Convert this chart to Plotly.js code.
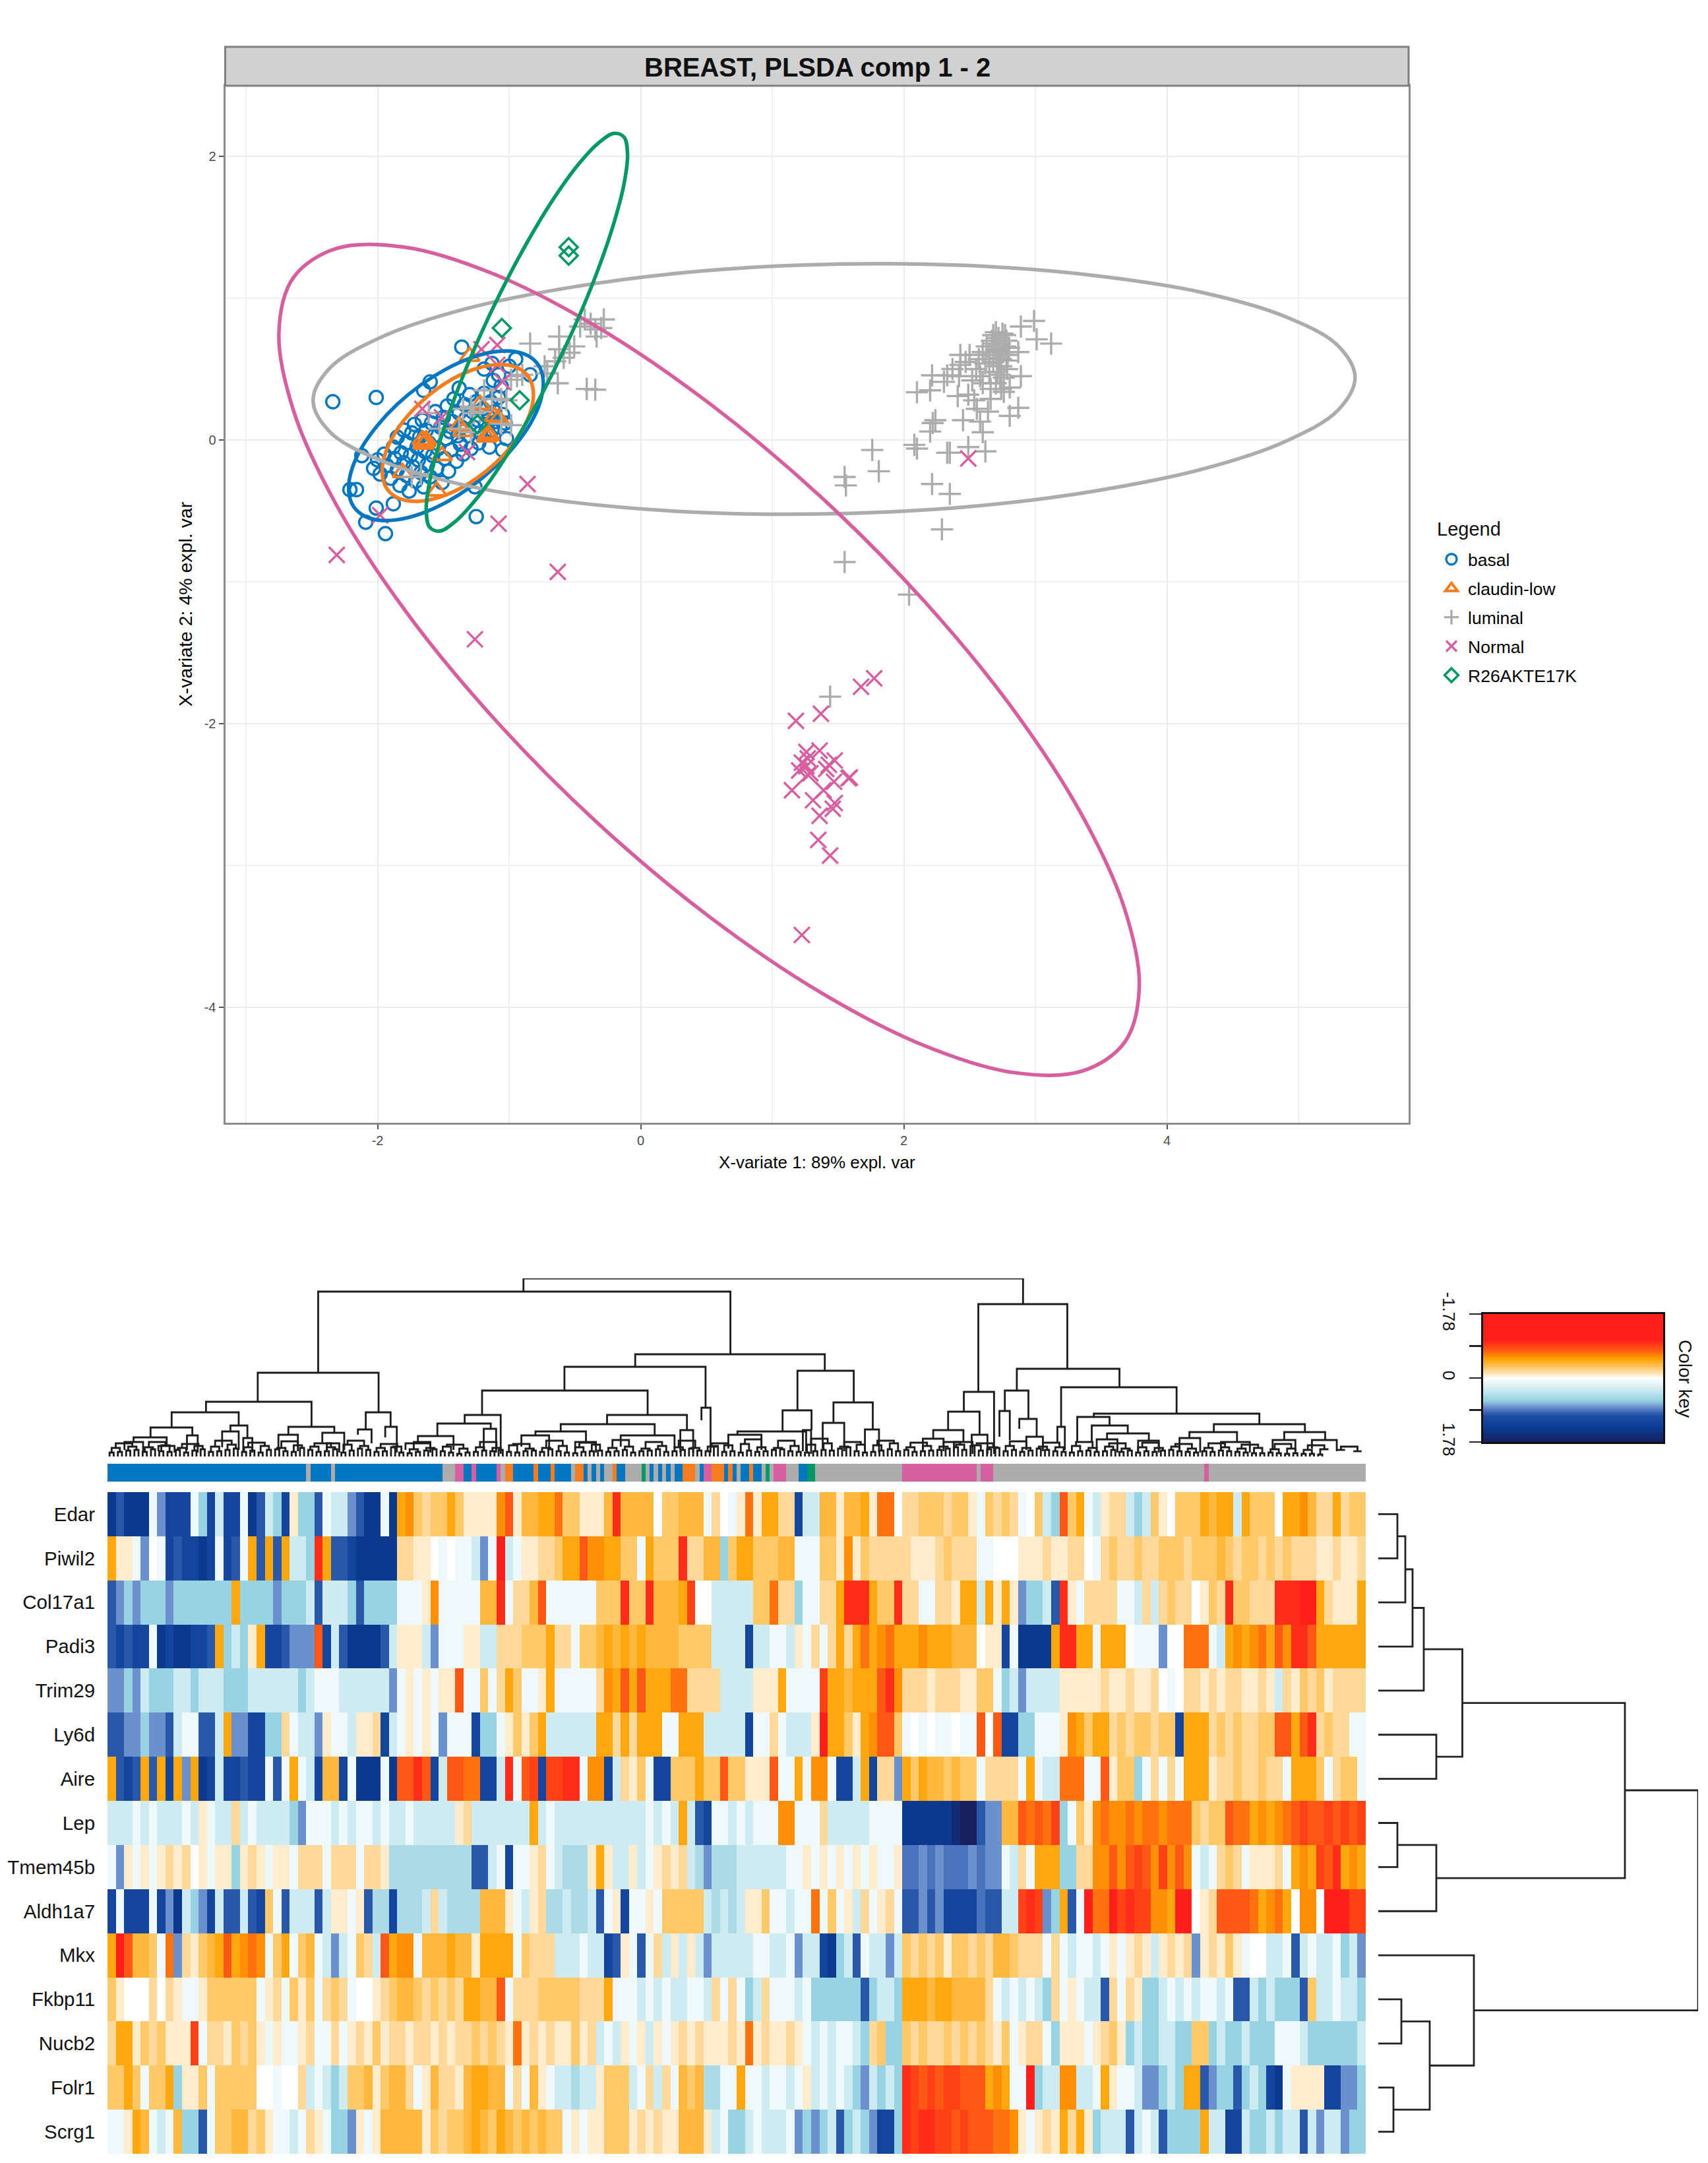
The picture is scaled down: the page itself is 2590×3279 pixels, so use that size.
<!DOCTYPE html>
<html><head><meta charset="utf-8">
<script src="https://cdn.plot.ly/plotly-3.0.1.min.js"></script>
<style>html,body{margin:0;padding:0;background:#fff}</style></head>
<body><div id="chart" style="width:2590px;height:3279px"></div>
<script>
// ---------- scatter panel values (component 1, component 2) ----------
const basalPts=[[-2.34,.27],[-2.01,.30],[-1.36,.655],[-1.60,.41],[-1.65,.35],[-1.38,.365],[-2.12,-.11],[-2.21,-.35],[-2.16,-.35],[-2.01,-.48],[-1.88,-.45],[-2.09,-.58],[-1.94,-.66],[-1.25,-.54],[-1.26,-.33],[-.95,.57],[-.84,.46],[-1.13,.54],[-1.19,.50],[-1.05,-.07],[-1.02,.01],[-1.0,.52],[-1.08,.46],[-1.06,.38],[-1.12,.42],
[-2.03,-.2],[-1.98,-.24],[-2.0,-.14],[-1.95,-.1],[-1.93,-.18],[-1.9,-.27],[-1.88,-.05],[-1.87,-.13],[-1.85,-.21],[-1.85,.02],[-1.83,-.32],[-1.82,-.09],[-1.8,-.16],[-1.8,.07],[-1.78,-.25],[-1.78,-.02],[-1.76,-.36],[-1.75,-.11],[-1.74,.05],[-1.73,-.19],[-1.72,.11],[-1.71,-.29],[-1.7,-.05],[-1.69,-.14],[-1.68,.02],[-1.67,-.23],[-1.66,.14],[-1.65,-.33],[-1.64,-.08],[-1.63,.07],[-1.62,-.17],[-1.61,-.02],[-1.6,-.26],[-1.59,.12],[-1.58,-.11],[-1.57,.03],[-1.56,.2],[-1.55,-.2],[-1.54,-.06],[-1.52,.09],[-1.51,-.3],[-1.5,.16],[-1.49,-.13],[-1.48,.01],[-1.47,.24],[-1.46,-.22],[-1.45,.06],[-1.44,-.07],[-1.43,.13],[-1.42,.29],[-1.4,-.15],[-1.39,.03],[-1.38,.19],[-1.37,-.03],[-1.36,.09],[-1.35,-.1],[-1.34,.25],[-1.33,.15],[-1.31,.03],[-1.3,.32],[-1.29,-.06],[-1.28,.2],[-1.27,.09],[-1.25,.27],[-1.24,.14],[-1.23,-.02],[-1.22,.05],[-1.2,.22],[-1.19,.33],[-1.18,.11],[-1.16,.17],[-1.15,-.05],[-1.14,.27],[-1.13,.07],[-1.11,.2],[-1.1,.13],[-1.08,.3],[-1.07,.09],[-1.05,.18],[-1.03,.12]];
const claudinPts=[[-1.64,-.015],[-1.65,-.03],[-1.63,0],[-1.66,0],[-1.51,-.11],[-1.81,-.23],[-1.55,-.36],[-1.22,.25],[-1.38,.10],[-1.35,.06],[-1.16,.045],[-1.15,.03],[-1.17,.02],[-1.11,.165],[-1.08,.15],[-1.30,.59]];
const luminalPts=[[-.84,.68],[-.62,.73],[-.62,.64],[-.505,.66],[-.54,.615],[-.585,.58],[-.65,.555],[-.73,.52],[-.71,.47],[-.63,.40],[-.41,.36],[-.345,.355],[-.425,.85],[-.345,.78],[-.28,.85],[-.30,.79],[-.38,.82],[-.335,.73],[-.46,.80],
[-.94,.45],[-.985,.425],[-.90,.46],[-1.19,.35],[-1.13,.29],[-1.06,.29],[-1.02,.28],[-1.29,.235],[-1.35,.22],[-1.22,.2],[-1.27,.19],[-1.06,.115],[-.985,.105],[-1.61,.19],[-1.53,.08],[-1.38,.08],[-1.29,.055],[-1.67,-.24],[-1.74,-.26],
[2.99,.84],[2.89,.80],[3.01,.71],[3.12,.68],[2.87,.62],[2.89,.45],[2.87,.227],[2.805,.17],[2.62,-.08],[2.49,-.05],[2.35,-.09],[2.33,-.09],[2.08,-.034],[2.10,-.06],[1.76,-.07],[1.81,-.22],[1.55,-.26],[1.56,-.32],[2.215,-.31],[2.35,-.38],[2.29,-.63],[1.55,-.86],[2.04,-1.09],[1.44,-1.81],
[2.22,.12],[2.24,.14],[2.20,.06],[2.45,.14],[2.58,.13],[2.60,.055],[2.10,.337],[2.20,.35],[2.215,.456],[2.305,.41],[2.33,.456],[2.37,.50],[2.43,.60],[2.43,.53],[2.41,.31],[2.535,.28],[2.49,.32],[2.66,.29],[2.555,.22],[2.64,.20],[2.76,.34],[2.805,.37],[2.785,.50],
[2.6,.62],[2.63,.66],[2.65,.6],[2.67,.7],[2.68,.55],[2.7,.76],[2.7,.64],[2.71,.48],[2.72,.58],[2.72,.72],[2.73,.68],[2.74,.52],[2.75,.62],[2.75,.75],[2.76,.44],[2.77,.66],[2.78,.7],[2.78,.56],[2.79,.6],[2.8,.65],[2.65,.48],[2.62,.54],[2.57,.57],[2.55,.5],[2.5,.6],[2.47,.55],[2.42,.45],[2.66,.36],[2.7,.4],[2.74,.36],[2.6,.4],[2.68,.74],[2.72,.63],[2.74,.57],[2.77,.74],[2.69,.68],[2.71,.52],[2.73,.46],[2.58,.45],[2.52,.42]];
const normalPts=[[-2.31,-.81],[-1.21,.64],[-1.09,.67],[-1.66,.22],[-1.05,.41],[-1.09,.53],[-1.32,-.085],[-.86,-.31],[-1.08,-.59],[-1.98,-.53],[-1.51,.16],[-.63,-.93],[-1.26,-1.405],[1.225,-3.49],[2.49,-.13],[1.775,-1.68],[1.675,-1.74],[1.37,-1.93],[1.18,-1.98],[1.36,-2.19],[1.26,-2.2],[1.27,-2.245],[1.225,-2.275],[1.205,-2.33],[1.26,-2.3],[1.27,-2.36],[1.29,-2.35],[1.475,-2.26],[1.43,-2.29],[1.41,-2.32],[1.58,-2.385],[1.59,-2.38],[1.47,-2.41],[1.39,-2.47],[1.15,-2.47],[1.31,-2.54],[1.475,-2.56],[1.46,-2.6],[1.36,-2.65],[1.35,-2.82],[1.44,-2.93]];
const r26Pts=[[-.547,1.36],[-.547,1.30],[-1.055,.79],[-.92,.28],[-1.24,.11]];
// ---------- confidence ellipses, read around each outline ----------
const ellipseBasalX=[-.74,-.765,-.839,-.957,-1.11,-1.288,-1.48,-1.672,-1.85,-2.003,-2.121,-2.195,-2.22,-2.195,-2.121,-2.003,-1.85,-1.672,-1.48,-1.288,-1.11,-.957,-.839,-.765,-.74];
const ellipseBasalY=[.40,.509,.585,.624,.622,.58,.50,.388,.252,.10,-.055,-.205,-.34,-.449,-.525,-.564,-.562,-.52,-.44,-.328,-.192,-.04,.115,.265,.40];
const ellipseClaudinX=[-.815,-.835,-.892,-.983,-1.102,-1.241,-1.39,-1.539,-1.678,-1.797,-1.888,-1.945,-1.965,-1.945,-1.888,-1.797,-1.678,-1.539,-1.39,-1.241,-1.102,-.983,-.892,-.835,-.815];
const ellipseClaudinY=[.32,.415,.484,.524,.531,.506,.45,.366,.261,.142,.016,-.107,-.22,-.315,-.384,-.424,-.431,-.406,-.35,-.266,-.161,-.042,.084,.207,.32];
const ellipseLuminalX=[5.43,5.30,4.90,4.27,3.45,2.50,1.47,.44,-.51,-1.33,-1.96,-2.36,-2.49,-2.36,-1.96,-1.33,-.51,.44,1.47,2.50,3.45,4.27,4.90,5.30,5.43];
const ellipseLuminalY=[.44,.665,.87,1.04,1.16,1.23,1.24,1.19,1.08,.925,.73,.51,.28,.055,-.15,-.32,-.44,-.51,-.52,-.47,-.36,-.205,-.01,.21,.44];
const ellipseNormalX=[3.79,3.679,3.352,2.832,2.155,1.367,.52,-.327,-1.115,-1.792,-2.312,-2.639,-2.75,-2.639,-2.312,-1.792,-1.115,-.327,.52,1.367,2.155,2.832,3.352,3.679,3.79];
const ellipseNormalY=[-3.855,-3.308,-2.641,-1.90,-1.136,-.399,.26,.795,1.17,1.36,1.351,1.146,.755,.208,-.459,-1.20,-1.964,-2.701,-3.36,-3.895,-4.27,-4.46,-4.451,-4.246,-3.855];
const ellipseR26X=[-.10,-.126,-.203,-.324,-.482,-.667,-.865,-1.063,-1.248,-1.406,-1.527,-1.604,-1.63,-1.604,-1.527,-1.406,-1.248,-1.063,-.865,-.667,-.482,-.324,-.203,-.126,-.10];
const ellipseR26Y=[2.015,2.135,2.162,2.092,1.934,1.694,1.39,1.044,.678,.318,-.012,-.289,-.495,-.615,-.642,-.572,-.414,-.174,.13,.476,.842,1.202,1.532,1.809,2.015];
// ---------- heatmap rows (tenths of a z-score, per pair of samples) ----------
const genes=["Edar","Piwil2","Col17a1","Padi3","Trim29","Ly6d","Aire","Lep","Tmem45b","Aldh1a7","Mkx","Fkbp11","Nucb2","Folr1","Scrg1"];
const rowEdar=[14,10,14,14,14,1,8,12,12,12,1,6,12,3,12,12,1,14,10,3,6,12,-1,6,6,10,1,3,3,8,10,14,14,1,14,
-5,-6,-3,-2,-3,-3,-5,-3,-1,-1,-1,-1,-6,-8,-1,-4,-4,-5,-5,-7,-3,-3,-1,-1,-1,-4,-10,-4,-4,-4,-4,0,-3,-3,-4,-4,-4,1,-2,0,1,-1,-7,-1,-5,-5,-2,-2,12,3,3,-4,-4,-1,-4,-4,
-5,-1,-7,-7,0,-2,-2,-3,-3,-3,-2,-3,-3,-1,1,-3,-2,-3,-2,1,0,-3,3,6,-8,-3,-5,1,3,-1,-2,-2,3,6,3,-3,-1,0,-3,-3,-3,-5,-4,-5,-5,3,-5,-3,-3,-3,0,-5,-5,-6,-4,-2,-2,-5,-2,-3,-3];
const rowPiwil2=[-5,-1,-1,1,8,0,1,12,10,12,12,14,12,1,12,10,1,-5,10,-5,10,-5,3,3,6,-10,-5,10,10,12,14,14,14,14,14,
-2,-2,-1,-1,0,1,0,1,1,3,8,1,-12,3,1,-1,-1,-2,-2,-3,-5,-5,-8,-6,-6,-5,-5,-3,-3,1,-5,-3,-3,-3,-10,-2,-2,-4,-4,6,-3,-5,-5,-3,-3,-3,-4,-4,1,1,1,-3,-3,-1,-6,-1,
-3,-2,-2,-2,-2,-2,-1,-1,-1,-2,-3,-2,-2,-2,1,1,0,0,0,-1,-1,-1,-2,-1,-1,-2,-2,0,1,-2,-3,-2,-2,-3,-2,-2,-3,-3,-3,-2,-3,-3,-3,-4,-3,-2,-3,-3,-2,-3,-2,-3,-2,-2,-2,-1,-1,-2,-1,-1,-2];
const rowCol17a1=[10,8,6,8,6,6,6,8,6,6,6,6,6,6,6,-5,6,6,6,6,8,6,6,6,3,10,3,3,3,6,10,6,6,6,6,
1,1,1,-1,-6,1,1,1,1,1,-4,-4,-10,1,-2,-2,-4,-8,1,1,1,1,1,1,-3,-3,-3,-10,-3,-3,-10,-4,-4,-4,-5,-9,0,0,3,3,3,3,3,-3,-3,-7,-2,-2,6,1,1,-2,-2,-5,-10,-10,
-10,-5,-3,-3,-10,-2,-2,1,1,-2,-2,-1,-5,-5,3,-5,-1,-5,-1,8,6,6,3,10,-10,-1,1,-2,-2,-2,-2,1,1,3,-2,3,-2,-3,-2,-2,0,-1,-3,-2,-10,-3,-3,-2,-2,-2,-10,-10,-10,-12,-12,-5,-2,-1,-1,-1,-5];
const rowPadi3=[10,12,10,12,12,1,14,12,14,14,12,12,10,-5,6,3,6,-1,-5,12,12,10,8,8,8,-8,12,3,10,14,14,14,14,10,3,
-1,-1,-1,3,8,1,1,1,-1,-1,3,3,-2,-2,-2,-3,-3,-3,-5,-2,-2,1,-3,-3,-4,-5,-4,-5,-4,-5,-4,-4,-4,-4,-3,-3,-3,-3,3,3,3,3,12,3,3,1,1,3,-1,1,-2,1,-2,-5,-2,-5,
-7,-5,-6,-7,-5,-5,-5,-6,-5,-5,-5,-4,-4,-4,0,-1,-1,12,1,14,14,14,14,-5,-10,-10,-5,-5,1,-5,-5,-5,0,1,1,1,8,0,0,-7,-7,-7,1,3,-5,-6,-5,-6,-7,-5,-8,-6,-10,-10,-8,-5,-5,-5,-5,-5,-5];
const rowTrim29=[8,8,6,8,3,6,6,6,3,3,6,3,3,3,6,6,6,3,3,3,3,3,3,6,3,1,1,1,3,3,3,3,3,3,8,
1,-1,1,-1,1,-1,-1,-8,1,1,-3,1,-2,-5,-3,1,1,-1,-5,1,1,1,1,1,-2,-6,-5,-8,-5,-8,-5,-5,-5,-7,-7,-2,-2,-2,-2,3,3,3,3,-1,-1,-1,-5,1,1,1,1,-9,-5,-5,-4,-5,
-5,-5,-8,-10,-6,-2,-2,-2,-1,-2,-2,-2,-1,-1,-3,-3,1,6,3,8,3,3,3,3,-1,-1,-1,-1,-1,-2,-1,-1,-2,-1,-1,-2,0,1,0,-2,-2,-1,-2,-1,-2,-2,-1,-1,-2,-1,3,-2,-1,-3,-2,-3,-1,-2,-2,-2,-2];
const rowLy6d=[10,10,8,8,6,8,8,10,3,1,1,10,10,3,-5,8,8,12,12,6,6,-2,1,3,3,8,-1,1,1,3,-1,-1,-2,12,3,
1,-1,1,-1,1,8,1,1,1,12,6,6,1,-1,-3,-1,-3,-5,3,3,3,3,3,3,-5,-5,-2,-5,-2,-5,-5,-5,1,1,-5,-5,-5,3,3,3,3,3,12,1,1,-2,1,3,3,3,-1,-12,-5,-5,-3,-1,
-5,-6,-8,-8,-3,1,0,1,0,1,1,0,1,1,-8,0,-8,12,12,6,6,1,1,1,-1,-6,-5,-3,-5,-5,-2,-3,-2,-3,-3,-2,-3,-3,12,-5,-5,-5,-2,-3,-2,-3,-2,-2,-3,-3,-8,-8,-5,-8,-10,-2,-3,-2,-2,1,1];
const rowAire=[-5,10,12,10,-5,10,-5,12,-5,8,-5,14,12,3,12,12,10,12,12,1,10,1,-5,1,3,12,-4,-4,12,1,14,14,14,1,14,
-8,-8,-10,-8,12,3,-8,-8,-7,-7,12,12,3,-10,1,-8,-9,12,-9,-9,-10,-10,1,-6,-6,12,3,-2,-1,-3,1,12,12,-3,-3,-3,-5,-3,-3,-8,-3,-3,-1,-1,-1,-8,1,1,-5,1,-6,-6,1,12,12,3,
-5,12,-2,-2,8,-5,-3,-5,-4,-4,-3,-4,-3,-3,1,-2,-2,-2,-2,1,-5,1,3,3,-7,-7,-7,1,1,-8,-1,-3,-3,6,1,-2,1,-2,1,-5,-5,-5,-1,-2,-2,-3,-2,-2,-3,-2,-2,1,-5,-5,-5,-3,1,-2,-3,-3,1];
const rowLep=[3,3,3,1,3,1,3,3,3,1,3,-1,1,3,3,-2,3,1,3,3,3,3,6,8,1,1,1,3,1,3,1,1,3,1,3,
3,1,3,3,3,3,3,-1,-2,3,3,3,3,3,3,3,-5,3,1,3,3,3,3,3,3,3,3,3,3,3,1,3,1,3,-5,3,10,12,1,1,3,1,3,1,1,1,-6,-6,1,1,1,-2,3,3,3,3,
3,1,1,1,1,14,14,14,14,14,14,16,18,18,10,8,8,-4,-4,-8,-7,-8,-7,-9,6,1,-3,-1,-6,-7,-6,-6,-7,-6,-7,-7,-6,-7,-7,-7,-3,-2,-3,-3,-8,-7,-7,-5,-6,-5,-6,-7,-8,-9,-8,-8,-9,-8,-9,-8,-9];
const rowTmem45b=[1,8,-1,1,-1,1,-1,-2,-1,-2,0,-1,1,-1,-1,6,-1,-2,-1,1,-1,-1,1,-2,-2,-2,1,-2,-2,-2,1,-2,-2,-1,5,
5,5,5,5,5,5,5,5,5,10,10,3,1,12,1,1,-1,-2,1,3,5,5,5,-1,-5,-1,3,3,-1,3,1,-1,-2,-1,-2,3,5,8,5,5,5,3,3,3,3,3,3,1,1,-1,1,-1,1,-1,1,-1,
1,-1,1,1,-1,9,9,8,9,8,9,9,9,8,9,8,8,1,3,-2,1,-5,-5,-5,6,6,-2,-2,-6,-6,-8,-6,-8,-9,-8,-6,-9,-6,-8,-6,1,3,1,-2,-3,-2,1,-1,-1,-1,-2,1,-5,-6,-5,-9,-8,-10,-5,-6,-5];
const rowAldh1a7=[12,1,12,12,12,1,12,8,14,3,6,8,12,3,10,10,3,10,12,-3,1,10,3,3,3,10,3,-1,-1,1,-1,10,5,5,12,
5,5,5,3,-2,3,5,5,5,5,-4,-4,-4,-1,1,3,-1,-2,5,5,3,5,5,3,10,1,-1,12,1,1,-1,1,-3,-3,-3,-3,-3,3,5,3,5,3,-1,-1,-3,1,1,3,1,1,-7,1,-3,1,-1,3,
-2,1,-1,-2,1,10,10,8,10,8,12,12,12,12,9,10,10,3,3,-9,-10,-9,8,6,-5,10,1,-12,-7,-7,-12,-9,-10,-9,-9,-6,-6,-5,-11,-11,0,-1,-2,-8,-8,-8,-8,-7,-5,-6,-7,-5,0,-6,-6,0,-12,-12,-12,-9,-9];
const rowMkx=[-5,-12,-8,-4,-4,-3,1,-7,8,-2,-1,-3,-4,-5,-8,-5,-6,-7,-6,1,-3,-5,1,-3,-4,1,3,8,3,1,-3,-2,3,-8,-5,
-6,-6,1,-4,-4,-4,-5,-4,-4,-1,-5,-5,-5,-5,1,-3,-2,-2,-2,3,3,3,1,3,3,12,10,-1,1,10,1,-2,3,-1,3,-1,3,8,3,3,3,3,3,1,1,3,3,1,8,3,3,12,14,6,3,10,
1,3,3,8,3,-3,-2,-3,-2,-3,-1,-3,-3,-2,-3,-2,-4,-4,-3,-2,-2,-2,1,-2,1,3,1,1,3,1,-1,1,-1,-2,-1,3,-1,-2,-1,-2,8,-1,-2,-1,-3,-1,1,0,0,3,3,1,10,3,1,3,3,1,6,3,8];
const rowFkbp11=[-3,-1,0,0,0,-2,0,-2,-1,1,1,-1,-3,-3,-3,-3,-3,-3,1,-1,-2,1,-3,-1,-3,1,-2,-3,-2,1,0,0,-1,-2,-3,
-4,-4,-3,-2,-3,-2,-3,-2,-5,-5,-4,-4,-8,1,-2,-2,-2,-3,-3,-3,-3,-3,-2,-2,-2,-5,1,1,1,3,1,3,1,3,3,1,1,3,-2,1,-2,1,6,3,-2,1,1,1,3,1,6,6,6,6,6,6,
10,6,3,3,6,-5,-5,-5,-4,-5,-5,-4,-4,-4,-4,-2,1,3,1,3,1,3,6,-2,1,-1,1,3,3,10,-2,1,-2,-1,6,6,3,1,3,1,3,1,1,3,1,10,10,3,6,3,6,6,6,10,-3,3,3,1,3,3,6];
const rowNucb2=[-2,-5,-5,-1,-3,-2,-3,-1,-1,-1,-9,1,-2,-2,-1,-3,-2,-3,-1,1,-1,1,1,-1,-2,1,1,-2,1,-1,-2,-1,-3,-1,-2,
-2,-1,-2,-2,-1,-2,-1,-2,-2,-3,-2,-3,-2,-1,-7,-1,-2,-1,-2,-1,-1,-3,-1,-2,3,1,3,-1,1,-1,3,-1,1,-1,-2,-1,-2,-1,-1,-1,-2,-1,-7,-1,-2,-1,-1,-2,-1,1,3,1,3,1,1,3,
6,-2,-3,6,6,-3,-2,-3,-2,-2,-3,-2,-3,-2,-3,-2,-1,-3,1,-1,-2,-2,1,6,-1,-1,-1,1,-1,-2,-3,-1,6,3,6,6,3,3,6,6,-3,-3,6,3,6,6,3,6,6,6,1,1,1,3,6,6,6,6,6,6,3];
const rowFolr1=[-3,-3,-5,-3,1,-3,-3,-5,6,-1,-1,-3,1,-3,-3,-3,-3,-3,0,0,1,0,0,-2,3,1,3,6,3,-3,-3,-4,-1,-3,-4,
-4,-2,1,-1,-4,-2,-2,-1,-4,-5,-5,-4,-4,1,-2,1,-4,-1,1,3,3,5,3,3,-1,-3,-3,-3,3,1,-2,3,-2,1,-4,-3,-4,5,5,1,1,-5,1,1,3,1,1,3,1,-1,3,1,3,1,3,6,
8,3,6,3,6,-10,-9,-8,-9,-8,-9,-9,-8,-8,-8,-5,-6,-5,1,1,-12,6,3,3,-6,-6,3,3,1,-5,-1,1,1,3,8,8,6,3,6,-5,-5,10,8,6,6,10,6,3,6,12,14,1,-1,-1,-1,-1,12,12,8,8,6];
const rowScrg1=[1,1,-1,-5,-4,1,3,1,-4,6,6,10,1,-3,-3,-4,-4,-2,-3,-1,1,1,3,1,-2,-1,1,6,6,8,-1,1,-1,-4,-4,
-4,-4,-4,-1,-3,-2,-3,-3,-4,-5,-4,-3,-5,-4,-3,-4,-3,-4,-3,-3,1,-1,1,-1,-1,-3,-3,-3,-1,-2,-1,-2,-1,-1,-4,-4,-4,-1,3,1,6,6,3,1,3,3,3,1,8,6,8,6,3,10,6,3,
6,8,12,12,6,-10,-9,-10,-10,-9,-9,-8,-9,-8,-8,-8,-7,-7,-6,-1,1,-1,-2,-1,-5,-2,-5,-1,6,3,3,3,10,3,1,3,10,6,6,6,6,-5,3,3,12,12,3,6,6,3,6,3,3,10,3,8,3,3,8,6,6];
const heatRows=[rowEdar,rowPiwil2,rowCol17a1,rowPadi3,rowTrim29,rowLy6d,rowAire,rowLep,rowTmem45b,rowAldh1a7,rowMkx,rowFkbp11,rowNucb2,rowFolr1,rowScrg1];
// ---------- sample class strip: class code, number of samples ----------
const classNames=["basal","claudin-low","luminal","Normal","R26AKTE17K"];
const stripClass=[0,2,0,2,0,2,3,0,3,0,3,2,1,0,1,0,1,0,2,1,0,2,0,2,0,2,1,0,2,4,2,0,2,0,2,0,2,0,1,2,0,3,1,0,1,0,2,0,1,0,2,4,2,3,2,0,4,2,3,2,3,2,3,2];
const stripRun=[48,1,5,1,26,3,2,2,1,5,1,1,2,5,1,3,1,4,1,2,1,1,1,1,1,2,1,2,4,1,1,1,1,1,1,1,1,2,3,1,1,2,3,1,1,1,1,2,1,2,1,1,1,3,3,2,2,21,18,1,3,51,1,38];
// ---------- column dendrogram: left, right, top, left child top, right child top ----------
const colMerges=[[100.5,221.2,270,250,231],[50.9,150.5,250,127,155],[210.4,231.9,231,98,133],[36.3,65.5,127,83,67],[23.8,49.3,83,67,45],[15.5,31.7,67,44,47],[10.4,20.5,44,29,32],[29.7,33.8,47,38,28],[43.7,54.8,45,33,36],[62.4,68.4,67,41,45],[60.5,63.8,41,33,20],[67.1,69.9,45,29,6],[127.5,173.3,155,136,130],[110.4,144.5,136,100,74],[90.5,130.5,100,63,63],[86.3,95,63,50,4],[79.7,92.6,50,31,42],[120.7,140,63,49,40],[109.5,132.2,49,38,32],[103.4,115.6,38,32,22],[143.5,145.7,74,55,6],[166.7,180.3,130,70,82],[163.1,170.1,70,38,40],[152.2,168.8,38,33,8],[175.4,184.9,82,51,41],[206.9,214.2,98,68,4],[203.1,210.7,68,40,33],[199.5,206.8,40,27,22],[219.7,244.5,133,100,105],[216.8,222.5,100,69,57],[215.5,218,69,30,25],[220.3,224.5,57,42,30],[230.4,258.3,105,45,65],[229.5,231.3,45,20,10],[238.3,278.3,65,60,49],[234.3,242.1,60,22,47],[237.8,246.5,47,22,35],[241.5,251.6,35,26,24],[267.3,289.3,49,37,37],
[6.3,14.3,29,22,16],[4.1,8.6,22,10,8],[12.3,16.2,16,8,6],[19.2,21.8,32,10,6],[27.7,31.7,38,14,10],[32.8,35,28,8,6],[41.3,46,33,12,8],[51.9,57.2,36,20,10],[53,56,20,8,6],[75,83.6,31,20,10],[72,78,20,10,6],[90.9,93.9,42,10,6],[100,106.7,32,15,10],[113,118,22,10,6],[124,137,32,15,12],[138.4,141.5,40,6,6],[150,158,33,12,10],[168,170,40,8,4],[172.8,178,51,12,8],[183,186.4,41,10,6],[197,202,27,10,8],[204.5,209,22,6,4],[208.8,212.6,33,14,4],[222,226,30,10,8],[239,244,26,8,6],[249,254,24,8,6],[261.4,272.9,37,28,22],[259,264,28,10,6],[269,276,22,8,6],[284.3,294.2,37,25,25],[281.5,287,25,10,8],[291,297,25,12,8]];
// leaf-level brackets, joined pairwise upward: every pair of samples, every 4, every 8
const leafPairTop=[6,7,9,10,7,11,8,7,10,6,9,11,7,8,10,12,7,9,6,10,11,8,7,13,10,7,8,11,6,9,12,10,7,8,14,
6,5,7,9,11,8,6,4,6,7,9,8,10,7,6,8,9,7,11,8,6,5,7,8,9,7,8,10,6,8,9,11,7,8,10,12,9,8,16,7,8,6,9,7,8,10,11,8,7,6,8,10,9,12,14,8,
6,7,9,11,8,10,7,8,9,10,12,14,10,16,9,11,13,8,10,7,9,12,10,8,7,6,8,9,7,8,10,7,9,6,8,7,9,10,8,7,6,8,7,9,8,7,6,5,5,6,5,4,5,4,4,3];
const leafQuadTop=[13,15,14,17,13,16,15,18,14,16,13,17,15,14,18,16,13,15,11,13,15,12,14,13,17,12,13,16,14,18,13,15,12,16,14,13,15,17,19,14,
13,16,18,20,15,18,17,20,14,16,15,18,17,14,16,13,15,14,16,13,15,12,14,13,15,12,13,14,12,13,11,12,10,11,10,8];
const leafOctTop=[20,22,19,24,21,23,20,24,19,22,18,22,19,24,21,25,22,24,20,26,24,27,22,24,21,22,20,23,21,22,20,21,19,20,18,19,17,15];
// ---------- row dendrogram: first row, second row, height, first child height, second child height ----------
const rowMerges=[[.5,1.5,29,0,0],[1,2.5,41,29,0],[1.75,3.5,52,41,0],[2.625,4.5,69,52,0],[5.5,6.5,88,0,0],[3.56,6,127.5,69,88],[7.5,8.5,29,0,0],[8,9.5,88,29,0],[4.78,8.75,374,127.5,88],[11.5,12.5,35,0,0],[13.5,14.5,23,0,0],[12,14,78,35,23],[10.5,13,145,0,78],[6.76,11.75,485,374,145]];
// ---------- colour key ----------
const keyLevels=[-1.78,-1.65,-1.5,-1.35,-1.2,-1.08,-.96,-.84,-.72,-.6,-.5,-.4,-.3,-.2,-.1,0,.1,.2,.3,.4,.5,.6,.72,.84,.96,1.08,1.2,1.35,1.5,1.65,1.78];
const keyTickVals=[-1.78,-.89,0,.89,1.78];
const keyTickText=["-1.78","","0","","1.78"];
const heatScale=[[0,"#ff1f1a"],[.2,"#ff1f1a"],[.28,"#ff5a14"],[.35,"#ffa200"],[.43,"#ffd080"],[.5,"#ffffff"],[.585,"#cfebf2"],[.68,"#8fd0e0"],[.73,"#6688cc"],[.79,"#1e4fa5"],[.88,"#0a3c94"],[1,"#1a1f5f"]];
const classColors=["#0077c0","#f57c1f","#acacac","#d85f9f","#009966"];

const FONT="Liberation Sans, Arial, sans-serif";
const W=2590,H=3279;
const domX=(a,b)=>[a/W,b/W];
const domY=(t,b)=>[1-b/H,1-t/H];
const px=p=>p/W, py=p=>1-p/H;

const styles=[
 {name:classNames[0],pts:basalPts,ex:ellipseBasalX,ey:ellipseBasalY,color:classColors[0],symbol:"circle-open",size:20,lw:3.4},
 {name:classNames[1],pts:claudinPts,ex:ellipseClaudinX,ey:ellipseClaudinY,color:classColors[1],symbol:"triangle-up-open",size:26,lw:4},
 {name:classNames[2],pts:luminalPts,ex:ellipseLuminalX,ey:ellipseLuminalY,color:classColors[2],symbol:"cross-thin-open",size:24,lw:3.4},
 {name:classNames[3],pts:normalPts,ex:ellipseNormalX,ey:ellipseNormalY,color:classColors[3],symbol:"x-thin-open",size:24,lw:3.4},
 {name:classNames[4],pts:r26Pts,ex:ellipseR26X,ey:ellipseR26Y,color:classColors[4],symbol:"diamond-open",size:21,lw:3.6}
];
const traces=[];
styles.forEach(s=>traces.push({type:"scatter",mode:"markers",name:s.name,legendgroup:s.name,x:s.pts.map(p=>p[0]),y:s.pts.map(p=>p[1]),
  marker:{symbol:s.symbol,size:s.size,color:s.color,line:{color:s.color,width:s.lw}},xaxis:"x",yaxis:"y"}));
styles.forEach(s=>traces.push({type:"scatter",mode:"lines",name:s.name+" ellipse",showlegend:false,x:s.ex,y:s.ey,
  line:{color:s.color,width:5.5,shape:"spline",smoothing:1},xaxis:"x",yaxis:"y"}));

// column dendrogram
const cdx=[],cdy=[];
colMerges.forEach(m=>{cdx.push(m[0],m[0],m[1],m[1],null);cdy.push(m[3],m[2],m[2],m[4],null);});
leafPairTop.forEach((h,i)=>{const l=i*2+.5,r=i*2+1.5;cdx.push(l,l,r,r,null);cdy.push(0,h,h,0,null);});
leafQuadTop.forEach((h,i)=>{const l=i*4+1,r=i*4+3;cdx.push(l,l,r,r,null);cdy.push(leafPairTop[2*i],h,h,leafPairTop[2*i+1],null);});
leafOctTop.forEach((h,i)=>{const l=i*8+2,r=i*8+6;cdx.push(l,l,r,r,null);cdy.push(leafQuadTop[2*i],h,h,leafQuadTop[2*i+1],null);});
traces.push({type:"scatter",mode:"lines",showlegend:false,x:cdx,y:cdy,line:{color:"#1c1c1c",width:2.8},xaxis:"x2",yaxis:"y2"});

// class strip
const stripZ=[];
stripRun.forEach((n,i)=>{for(let k=0;k<n;k++)stripZ.push(stripClass[i]+.5);});
const stripScale=[];
classColors.forEach((c,i)=>{stripScale.push([i/5,c],[(i+1)/5,c]);});
traces.push({type:"heatmap",z:[stripZ],x0:.5,dx:1,y:[0],zmin:0,zmax:5,colorscale:stripScale,showscale:false,xaxis:"x3",yaxis:"y3"});

// heatmap
traces.push({type:"heatmap",z:heatRows.map(r=>r.map(v=>v/10)),x0:1,dx:2,y:genes,zmin:-1.78,zmax:1.78,colorscale:heatScale,showscale:false,xaxis:"x4",yaxis:"y4"});

// row dendrogram
const rdx=[],rdy=[];
rowMerges.forEach(m=>{rdx.push(m[3],m[2],m[2],m[4],null);rdy.push(m[0],m[0],m[1],m[1],null);});
traces.push({type:"scatter",mode:"lines",showlegend:false,x:rdx,y:rdy,line:{color:"#222",width:2.8},xaxis:"x5",yaxis:"y5"});

// colour key
traces.push({type:"heatmap",z:keyLevels.map(v=>[v]),x:[0],y:keyLevels,zmin:-1.78,zmax:1.78,colorscale:heatScale,showscale:false,zsmooth:"best",xaxis:"x6",yaxis:"y6"});

const hidden={showgrid:false,zeroline:false,showticklabels:false,ticks:"",showline:false};
const layout={
 width:W,height:H,margin:{l:0,r:0,t:0,b:0,pad:0},paper_bgcolor:"#fff",plot_bgcolor:"#fff",font:{family:FONT,color:"#000"},showlegend:true,
 legend:{x:px(2176),y:py(824),xanchor:"left",yanchor:"top",font:{size:26.5,family:FONT},tracegroupgap:6.5,traceorder:"grouped",bgcolor:"rgba(0,0,0,0)",itemwidth:40},
 xaxis:{domain:domX(341.5,2136),range:[-3.158,5.837],tickvals:[-2,0,2,4],ticktext:["-2","0","2","4"],ticks:"outside",ticklen:7,tickwidth:2,tickcolor:"#555",tickfont:{size:20,color:"#4d4d4d"},
   showgrid:true,gridcolor:"#ebebeb",gridwidth:2,zeroline:false,showline:true,mirror:true,linecolor:"#8c8c8c",linewidth:3,
   minor:{tickvals:[-3,-1,1,3,5],showgrid:true,gridcolor:"#f0f0f0",gridwidth:1.5,ticks:""},
   title:{text:"X-variate 1: 89% expl. var",font:{size:26,color:"#000"},standoff:14}},
 yaxis:{domain:domY(130,1702),range:[-4.814,2.498],tickvals:[-4,-2,0,2],ticktext:["-4","-2","0","2"],ticks:"outside",ticklen:7,tickwidth:2,tickcolor:"#555",tickfont:{size:20,color:"#4d4d4d"},
   showgrid:true,gridcolor:"#ebebeb",gridwidth:2,zeroline:false,showline:true,mirror:true,linecolor:"#8c8c8c",linewidth:3,
   minor:{tickvals:[-3,-1,1],showgrid:true,gridcolor:"#f0f0f0",gridwidth:1.5,ticks:""},
   title:{text:"X-variate 2: 4% expl. var",font:{size:28.5,color:"#000"},standoff:10}},
 xaxis2:Object.assign({domain:domX(163,2071),range:[0,304],anchor:"y2"},hidden),
 yaxis2:Object.assign({domain:domY(1938,2208),range:[0,270],anchor:"x2"},hidden),
 xaxis3:Object.assign({domain:domX(163,2071),range:[0,304],anchor:"y3"},hidden),
 yaxis3:Object.assign({domain:domY(2219,2246),range:[-.5,.5],anchor:"x3"},hidden),
 xaxis4:Object.assign({domain:domX(163,2071),range:[0,304],anchor:"y4"},hidden),
 yaxis4:{domain:domY(2262,3265),autorange:"reversed",type:"category",anchor:"x4",showgrid:false,zeroline:false,showline:false,ticks:"outside",ticklen:12,tickcolor:"rgba(0,0,0,0)",tickfont:{size:29.5,color:"#111"}},
 xaxis5:Object.assign({domain:domX(2090,2575),range:[0,485],anchor:"y5"},hidden),
 yaxis5:Object.assign({domain:domY(2262,3265),range:[15,0],anchor:"x5"},hidden),
 xaxis6:{domain:domX(2249,2522),anchor:"y6",showticklabels:false,ticks:"",showgrid:false,zeroline:false,showline:true,mirror:true,linecolor:"#111",linewidth:3},
 yaxis6:{domain:domY(1992,2186),range:[1.78,-1.78],anchor:"x6",tickvals:keyTickVals,ticktext:keyTickText,ticks:"outside",ticklen:18,tickwidth:2.5,tickcolor:"#222",tickangle:90,ticklabelstandoff:9,tickfont:{size:26,color:"#111"},showgrid:false,zeroline:false,showline:true,mirror:true,linecolor:"#111",linewidth:3},
 shapes:[{type:"rect",xref:"paper",yref:"paper",x0:px(341.5),x1:px(2136),y0:py(130),y1:py(71),fillcolor:"#d1d1d1",line:{color:"#808080",width:3},layer:"above"}],
 annotations:[
  {xref:"paper",yref:"paper",x:px(1239),y:py(102),text:"<b>BREAST, PLSDA comp 1 - 2</b>",showarrow:false,xanchor:"center",yanchor:"middle",font:{size:40,color:"#111",family:FONT}},
  {xref:"paper",yref:"paper",x:px(2177),y:py(802),text:"Legend",showarrow:false,xanchor:"left",yanchor:"middle",font:{size:29,color:"#111",family:FONT}},
  {xref:"paper",yref:"paper",x:px(2556),y:py(2090),text:"Color key",textangle:90,showarrow:false,xanchor:"center",yanchor:"middle",font:{size:28,color:"#111",family:FONT}}
 ]
};
Plotly.newPlot("chart",traces,layout,{displayModeBar:false,staticPlot:true});
</script></body></html>
